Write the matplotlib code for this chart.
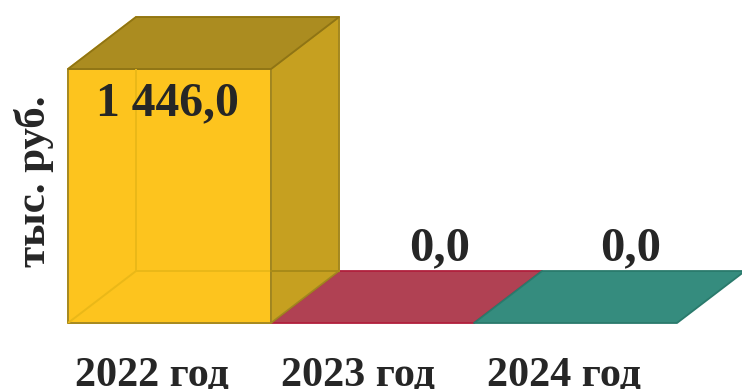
import matplotlib
matplotlib.use('Agg')
from matplotlib import pyplot as plt
from matplotlib.patches import Polygon

categories = ['2022 год', '2023 год', '2024 год']
values = [1446.0, 0.0, 0.0]
value_labels = ['1 446,0', '0,0', '0,0']
y_label = 'тыс. руб.'

front_colors = ['#fdc41e', '#b04153', '#358c7e']
top_colors = ['#ab8c20', '#b04153', '#358c7e']
side_colors = ['#c6a020', '#b04153', '#358c7e']
edge_colors = ['#a08520', '#b01f3c', '#2a7a6c']

W, H = 742, 389
plt.rcParams['font.family'] = ['Liberation Serif', 'DejaVu Serif']

fig = plt.figure(figsize=(W / 100, H / 100), dpi=100)
ax = fig.add_axes([68 / W, (H - 323) / H, 609 / W, 254 / H])
ax.set_xlim(-0.5, 2.5)
ax.set_ylim(0, 1446)
ax.axis('off')

# depth of the fake 3d box in data units
dx = 0.335
dy = 296
bar_w = 1.0


def face(pts, color, edge, z):
    ax.add_patch(Polygon(pts, closed=True, facecolor=color, edgecolor=edge,
                         linewidth=1.3, clip_on=False, zorder=z, joinstyle='round'))


for i, v in enumerate(values):
    x0 = i - bar_w / 2
    x1 = i + bar_w / 2
    if v > 0:
        # back and floor first, so the front covers them
        face([(x0 + dx, dy), (x1 + dx, dy), (x1 + dx, v + dy), (x0 + dx, v + dy)], front_colors[i], '#eab818', 1)
        face([(x0, 0), (x1, 0), (x1 + dx, dy), (x0 + dx, dy)], front_colors[i], '#eab818', 1)
        face([(x0, 0), (x0 + dx, dy), (x0 + dx, v + dy), (x0, v)], front_colors[i], '#eab818', 1)
        face([(x0, 0), (x1, 0), (x1, v), (x0, v)], front_colors[i], edge_colors[i], 2)
        face([(x1, 0), (x1 + dx, dy), (x1 + dx, v + dy), (x1, v)], side_colors[i], edge_colors[i], 3)
        face([(x0, v), (x1, v), (x1 + dx, v + dy), (x0 + dx, v + dy)], top_colors[i], '#8f7414', 3)
        # hidden edges show through the front face
        ax.plot([x0 + dx, x0 + dx], [v, v + dy], color='#97791a', lw=1.2, zorder=4, solid_capstyle='butt')
        ax.plot([x0 + dx, x0 + dx], [dy, v], color='#eab818', lw=1.4, zorder=4, solid_capstyle='butt')
        ax.plot([x0, x0 + dx], [0, dy], color='#eab818', lw=1.4, zorder=4)
        ax.plot([x0 + dx, x1], [dy, dy], color='#eab818', lw=1.4, zorder=4)
        ax.plot([x1, x1 + dx], [dy, dy], color='#a88a18', lw=1.4, zorder=4)
    else:
        face([(x0, 0), (x1, 0), (x1 + dx, dy), (x0 + dx, dy)], front_colors[i], edge_colors[i], 1)

# labels sit at fixed spots relative to each bar
label_x = [-0.01, 1.332, 2.272]
label_y = [1185, 358, 358]
label_size = [34.3, 35, 35]
for i, lab in enumerate(value_labels):
    ax.text(label_x[i], label_y[i], lab, ha='center', va='baseline', fontsize=label_size[i], fontweight='bold',
            color='#262626', zorder=6)

tick_x = [-0.087, 0.927, 1.942]
for i, cat in enumerate(categories):
    ax.text(tick_x[i], -355, cat, ha='center', va='baseline', fontsize=30.3, fontweight='bold', color='#262626')

ax.text(-0.668, 805, y_label, ha='center', va='center', rotation=90, fontsize=31, fontweight='bold', color='#262626')

fig.savefig('out.png', dpi=100)
